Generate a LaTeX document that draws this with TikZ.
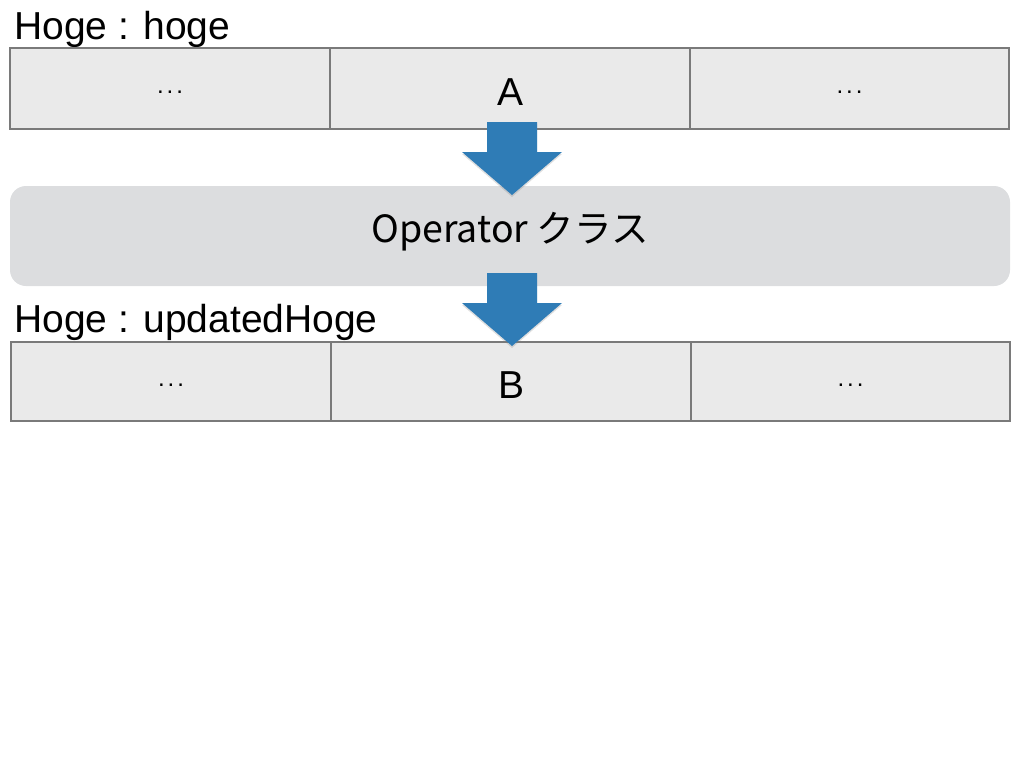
\documentclass[tikz,border=0pt]{standalone}
\usepackage{fontspec}
\setmainfont{Liberation Sans}
\newfontfamily\jpfont{Noto Sans CJK JP}
\usetikzlibrary{positioning,shadows}
\definecolor{cellgray}{HTML}{EAEAEA}
\definecolor{opgray}{HTML}{DCDDDF}
\definecolor{linegray}{HTML}{7A7A7A}
\definecolor{arrowblue}{HTML}{2F7CB6}
\tikzset{
    cell/.style={draw=linegray, line width=1.2pt, fill=cellgray, inner sep=0pt,
        outer sep=0pt, anchor=north west, font=\fontsize{39}{46}\selectfont,
        text height=34pt, text depth=0pt},
    dotcell/.style={cell, font=\fontsize{24}{28}\selectfont,
        text height=0pt, text depth=0pt},
    lbl/.style={inner sep=0pt, anchor=base west, font=\fontsize{39}{46}\selectfont},
    opbox/.style={fill=opgray, rounded corners=16pt, minimum width=1000pt,
        minimum height=100pt, inner sep=0pt},
    blockarrow/.style={fill=arrowblue,
        drop shadow={opacity=.25, shadow xshift=0pt, shadow yshift=-2pt}}
}
\newcommand\celldots{\raisebox{-5pt}{.\kern3pt.\kern3pt.}}

\begin{document}
\begin{tikzpicture}[x=1pt, y=-1pt]
\useasboundingbox (0,0) rectangle (1024,768);

% input row
\node[lbl] (hoge) at (14,40) {Hoge : hoge};
\node[dotcell, minimum width=320pt, minimum height=81pt] (in1) at (10,48) {\celldots};
\node[cell, minimum width=360pt, minimum height=81pt, right=0pt of in1] (in2) {A};
\node[dotcell, minimum width=319pt, minimum height=81pt, right=0pt of in2] (in3) {\celldots};

% operator
\node[opbox] (op) at (510,236) {};
\node[font=\jpfont\fontsize{37.5}{44}\selectfont, inner sep=0pt] (oplabel)
    at ([yshift=4pt]op.center) {Operator クラス};

% output row
\node[lbl] (updated) at (14,332) {Hoge : updatedHoge};
\node[dotcell, minimum width=320pt, minimum height=79pt] (out1) at (11,342) {\celldots};
\node[cell, minimum width=360pt, minimum height=79pt, right=0pt of out1] (out2) {B};
\node[dotcell, minimum width=319pt, minimum height=79pt, right=0pt of out2] (out3) {\celldots};

% arrows
\foreach \yt in {122,273}
    \fill[blockarrow] (487,\yt) -- (537,\yt) -- (537,\yt+30) -- (562,\yt+30)
        -- (512,\yt+73) -- (462,\yt+30) -- (487,\yt+30) -- cycle;
\end{tikzpicture}
\end{document}
